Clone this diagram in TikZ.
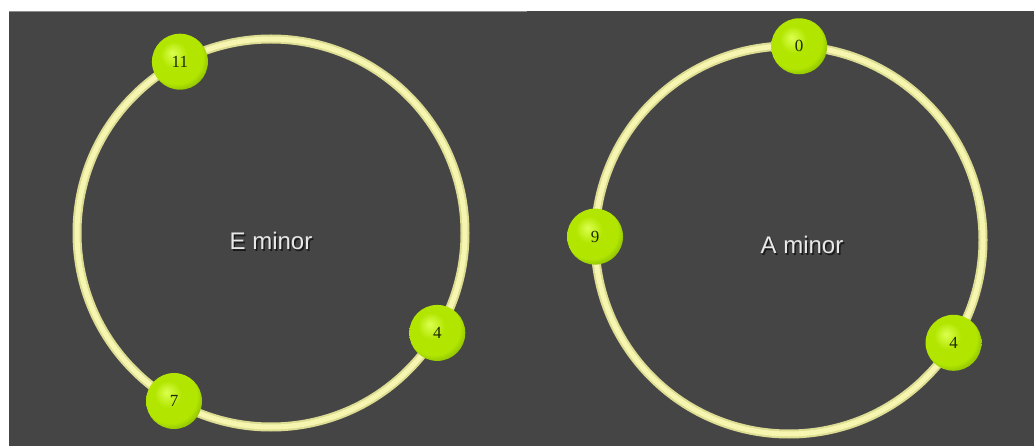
\documentclass[tikz,border=0pt]{standalone}
\usepackage{fontspec}
\setmainfont{Liberation Serif}
\setsansfont{Liberation Sans}
\definecolor{panel}{HTML}{454545}
\definecolor{topline}{HTML}{8C8C8C}
\definecolor{ringout}{HTML}{DCDC92}
\definecolor{ringin}{HTML}{F6F6B0}
\definecolor{limeHi}{HTML}{DCFF50}
\definecolor{limeMid}{HTML}{B2E600}
\definecolor{limeDk}{HTML}{84B800}
\definecolor{numcol}{HTML}{1E2A00}
\definecolor{labelcol}{HTML}{E8E8E8}
\pgfdeclareradialshading{limeball}{\pgfpoint{-7bp}{8bp}}{color(0bp)=(limeHi); color(12bp)=(limeMid); color(24bp)=(limeMid); color(31bp)=(limeDk); color(50bp)=(limeDk)}
\tikzset{
  ring/.style={circle, inner sep=0pt, outer sep=0pt, minimum size=388pt,
    draw=ringout, line width=2pt, double=ringin, double distance=5pt},
  note/.style={circle, inner sep=0pt, minimum size=56pt, shading=limeball,
    text=numcol, font=\fontsize{17}{17}\selectfont},
  chord/.style={text=labelcol, font=\sffamily\fontsize{24}{24}\selectfont},
  chordshadow/.style={text=black, opacity=0.6, font=\sffamily\fontsize{24}{24}\selectfont}
}
\begin{document}
\begin{tikzpicture}[x=1pt,y=-1pt]
\useasboundingbox (0,0) rectangle (1034,446);
\fill[white] (0,0) rectangle (1034,446);
\fill[panel] (9,11) rectangle (1034,446);
\draw[topline, line width=1pt] (9,11.5) -- (527,11.5);
% left: E minor
\node[ring] (ringL) at (271,233) {};
\node[chordshadow] (labLs) at (272.5,242.5) {E minor};
\node[chord] (labL) at (271,241) {E minor};
\node[note] (n11) at (ringL.118) {11};
\node[note] (n4L) at (ringL.-31.7) {4};
\node[note] (n7) at (ringL.-120.7) {7};
% right: A minor
\node[ring] (ringR) at (789,240) {};
\node[chordshadow] (labRs) at (803.5,246.5) {A minor};
\node[chord] (labR) at (802,245) {A minor};
\node[note] (n0) at (ringR.87.4) {0};
\node[note] (n9) at (ringR.179.7) {9};
\node[note] (n4R) at (ringR.-32.5) {4};
\end{tikzpicture}
\end{document}
